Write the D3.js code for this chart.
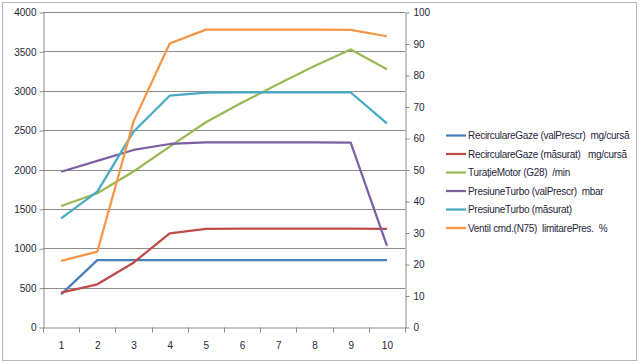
<!DOCTYPE html>
<html lang="ro">
<head>
  <meta charset="UTF-8">
  <script src="https://d3js.org/d3.v7.min.js"></script>
  <style>
    body { margin: 0; background: #fff; }
    text { font-family: "Liberation Sans", Arial, sans-serif; fill: #1f1f3a; }
  </style>
</head>
<body>
  <script>
    var categories = ['1', '2', '3', '4', '5', '6', '7', '8', '9', '10'];
    var leftTicks = [0, 500, 1000, 1500, 2000, 2500, 3000, 3500, 4000];
    var rightTicks = [0, 10, 20, 30, 40, 50, 60, 70, 80, 90, 100];

    var egrSet = [415, 850, 850, 850, 850, 850, 850, 850, 850, 850];
    var egrMeas = [436, 542, 817, 1190, 1245, 1248, 1248, 1248, 1248, 1246];
    var rpm = [1537, 1698, 1975, 2290, 2600, 2850, 3085, 3315, 3525, 3272];
    var boostSet = [1972, 2110, 2248, 2324, 2345, 2345, 2345, 2345, 2342, 1032];
    var boostMeas = [1380, 1719, 2480, 2937, 2975, 2978, 2978, 2978, 2978, 2586];
    var n75 = [21.0, 23.9, 65.2, 90.0, 94.4, 94.4, 94.4, 94.4, 94.3, 92.3];

    var series = [
      {name: 'RecirculareGaze (valPrescr)  mg/cursă', values: egrSet, axis: 'left', color: '#4a7ebb'},
      {name: 'RecirculareGaze (măsurat)   mg/cursă', values: egrMeas, axis: 'left', color: '#be4b48'},
      {name: 'TurațieMotor (G28)  /min', values: rpm, axis: 'left', color: '#98b954'},
      {name: 'PresiuneTurbo (valPrescr)  mbar', values: boostSet, axis: 'left', color: '#7d60a0'},
      {name: 'PresiuneTurbo (măsurat)', values: boostMeas, axis: 'left', color: '#46aac5'},
      {name: 'Ventil cmd.(N75)  limitarePres.  %', values: n75, axis: 'right', color: '#f79646'}
    ];

    var W = 640, H = 363;
    var plot = {left: 43, right: 405, top: 12, bottom: 327};

    var svg = d3.select('body').append('svg')
      .attr('width', W).attr('height', H);

    // outer frame
    svg.append('rect')
      .attr('x', 2.5).attr('y', 2.5)
      .attr('width', 634).attr('height', 358)
      .attr('fill', 'none').attr('stroke', '#b8b8b8').attr('stroke-width', 1);

    var x = d3.scaleBand().domain(categories).range([plot.left, plot.right]);
    var yL = d3.scaleLinear().domain([0, 4000]).range([plot.bottom, plot.top]);
    var yR = d3.scaleLinear().domain([0, 100]).range([plot.bottom, plot.top]);

    // gridlines
    svg.append('g')
      .selectAll('line')
      .data(leftTicks.slice(1))
      .enter().append('line')
        .attr('x1', plot.left).attr('x2', plot.right)
        .attr('y1', function(d) { return Math.round(yL(d)) + 0.5; })
        .attr('y2', function(d) { return Math.round(yL(d)) + 0.5; })
        .attr('stroke', '#8c8c8c').attr('stroke-width', 1);

    // left axis
    var gl = svg.append('g')
      .attr('transform', 'translate(' + (plot.left + 0.5) + ',0.5)')
      .call(d3.axisLeft(yL).tickValues(leftTicks).tickFormat(d3.format('d'))
        .tickSize(4).tickPadding(3).tickSizeOuter(0));
    // right axis
    var gr = svg.append('g')
      .attr('transform', 'translate(' + (plot.right + 0.5) + ',0.5)')
      .call(d3.axisRight(yR).tickValues(rightTicks).tickSize(4).tickPadding(4).tickSizeOuter(0));
    // bottom axis
    var gb = svg.append('g')
      .attr('transform', 'translate(0.5,' + (plot.bottom + 0.5) + ')')
      .call(d3.axisBottom(x).tickSize(0).tickPadding(14));
    // x tick marks at category boundaries
    gb.append('g').selectAll('line')
      .data(categories.concat(['end']))
      .enter().append('line')
        .attr('x1', function(d, i) { return Math.round(plot.left + i * x.step()); })
        .attr('x2', function(d, i) { return Math.round(plot.left + i * x.step()); })
        .attr('y1', 0).attr('y2', 5)
        .attr('stroke', '#8c8c8c');

    [gl, gr, gb].forEach(function(g) {
      g.select('.domain').attr('stroke', '#8c8c8c');
      g.selectAll('.tick line').attr('stroke', '#8c8c8c');
      g.selectAll('text').attr('font-size', 10).attr('fill', '#1f1f3a')
        .attr('font-family', '"Liberation Sans", Arial, sans-serif');
    });

    // lines
    series.forEach(function(s) {
      var yy = s.axis === 'left' ? yL : yR;
      var line = d3.line()
        .x(function(d, i) { return x(categories[i]) + x.bandwidth() / 2; })
        .y(function(d) { return yy(d); });
      svg.append('path')
        .datum(s.values)
        .attr('d', line)
        .attr('fill', 'none')
        .attr('stroke', s.color)
        .attr('stroke-width', 2.25)
        .attr('stroke-linejoin', 'round');
    });

    // legend
    var legend = svg.append('g');
    series.forEach(function(s, i) {
      var ly = 135.5 + i * 18.5;
      legend.append('line')
        .attr('x1', 446).attr('x2', 466)
        .attr('y1', ly).attr('y2', ly)
        .attr('stroke', s.color).attr('stroke-width', 2.25);
      legend.append('text')
        .attr('x', 468).attr('y', ly + 3.5)
        .attr('font-size', 10)
        .attr('letter-spacing', -0.3)
        .style('white-space', 'pre')
        .text(s.name);
    });
  </script>
</body>
</html>
